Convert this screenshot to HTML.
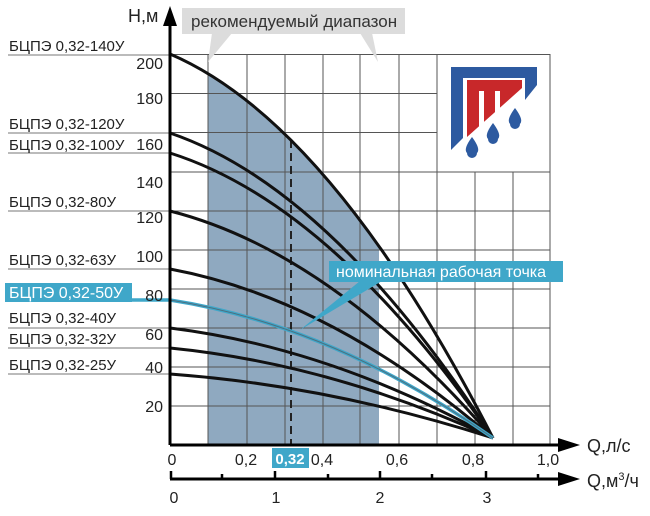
<!DOCTYPE html>
<html><head><meta charset="utf-8"><style>
body{margin:0;background:#fff}
svg text{font-family:"Liberation Sans",sans-serif}
</style></head><body>
<svg width="650" height="511" viewBox="0 0 650 511" xmlns="http://www.w3.org/2000/svg">
<defs><clipPath id="c"><path d="M170,54 Q331.5,123 493,438 L493,445 L170,445Z"/></clipPath></defs>
<!-- shaded range -->
<rect x="208" y="54" width="171" height="391" fill="#8fa9c0" clip-path="url(#c)"/>
<!-- grid -->
<g stroke="#555" stroke-width="1">
<line x1="170" y1="54.5" x2="550" y2="54.5"/>
<line x1="170" y1="93.5" x2="437" y2="93.5"/>
<line x1="170" y1="132.5" x2="437" y2="132.5"/>
<line x1="170" y1="172" x2="550" y2="172"/>
<line x1="170" y1="211" x2="550" y2="211"/>
<line x1="170" y1="250" x2="550" y2="250"/>
<line x1="170" y1="289" x2="550" y2="289"/>
<line x1="170" y1="328" x2="550" y2="328"/>
<line x1="170" y1="367" x2="550" y2="367"/>
<line x1="170" y1="406" x2="550" y2="406"/>
<line x1="208" y1="54" x2="208" y2="445"/>
<line x1="247" y1="54" x2="247" y2="445"/>
<line x1="285" y1="54" x2="285" y2="445"/>
<line x1="323" y1="54" x2="323" y2="445"/>
<line x1="360" y1="54" x2="360" y2="445"/>
<line x1="399" y1="54" x2="399" y2="445"/>
<line x1="437" y1="54" x2="437" y2="445"/>
<line x1="475" y1="172" x2="475" y2="445"/>
<line x1="513" y1="172" x2="513" y2="445"/>
<line x1="550" y1="54" x2="550" y2="445"/>
</g>
<line x1="291" y1="140" x2="291" y2="445" stroke="#222" stroke-width="2" stroke-dasharray="8,5"/>
<!-- label lines -->
<g stroke="#777" stroke-width="1">
<line x1="8" y1="55" x2="170" y2="55"/>
<line x1="8" y1="133" x2="170" y2="133"/>
<line x1="8" y1="153" x2="170" y2="153"/>
<line x1="8" y1="211" x2="170" y2="211"/>
<line x1="8" y1="269" x2="170" y2="269"/>
<line x1="8" y1="328" x2="170" y2="328"/>
<line x1="8" y1="348" x2="170" y2="348"/>
<line x1="8" y1="374" x2="170" y2="374"/>
</g>
<g fill="none" stroke="#111" stroke-width="3">
<path d="M170,54 Q331.5,123 493,438"/>
<path d="M170,133 Q331.5,188 493,438"/>
<path d="M170,153 Q331.5,204 493,438"/>
<path d="M170,211 Q331.5,252 493,438"/>
<path d="M170,269 Q331.5,299 493,438"/>
<path d="M170,328 Q331.5,348 493,438"/>
<path d="M170,348 Q331.5,364 493,438"/>
<path d="M170,374 Q331.5,386 493,438"/>
</g>
<path d="M130,300 L170,300 Q331.5,325 493,438" fill="none" stroke="#3fa7c9" stroke-width="3.5"/>
<path d="M170,300 Q331.5,325 493,438" fill="none" stroke="#4d6f80" stroke-width="1"/>
<!-- axes -->
<line x1="170" y1="20" x2="170" y2="445" stroke="#000" stroke-width="3"/>
<polygon points="163,26 170,6 177,26" fill="#000"/>
<line x1="170" y1="445" x2="565" y2="445" stroke="#000" stroke-width="3"/>
<polygon points="558,438 580,445 558,452" fill="#000"/>
<line x1="170" y1="479" x2="565" y2="479" stroke="#000" stroke-width="3"/>
<polygon points="558,472 580,479 558,486" fill="#000"/>
<g stroke="#000" stroke-width="2.5">
<line x1="171" y1="471" x2="171" y2="479"/><line x1="222" y1="474" x2="222" y2="479"/>
<line x1="275" y1="471" x2="275" y2="479"/><line x1="328" y1="474" x2="328" y2="479"/>
<line x1="380" y1="471" x2="380" y2="479"/><line x1="432" y1="474" x2="432" y2="479"/>
<line x1="486" y1="471" x2="486" y2="479"/><line x1="538" y1="474" x2="538" y2="479"/>
</g>
<g font-size="16" fill="#222" text-anchor="end">
<text x="163" y="69">200</text><text x="163" y="104">180</text><text x="163" y="150">160</text>
<text x="163" y="188">140</text><text x="163" y="223">120</text><text x="163" y="262">100</text>
<text x="163" y="301">80</text><text x="163" y="340">60</text><text x="163" y="373">40</text>
<text x="163" y="412">20</text>
</g>
<g font-size="16" fill="#222" text-anchor="middle">
<text x="172" y="465">0</text><text x="246" y="465">0,2</text><text x="322" y="465">0,4</text>
<text x="397" y="465">0,6</text><text x="473" y="465">0,8</text><text x="548" y="465">1,0</text>
<text x="174" y="503">0</text><text x="276" y="503">1</text><text x="380" y="503">2</text><text x="487" y="503">3</text>
</g>
<rect x="272" y="448" width="37" height="20" fill="#3fa7c9"/>
<text x="290" y="464" font-size="15" font-weight="bold" fill="#fff" text-anchor="middle">0,32</text>
<text x="587" y="452" font-size="18" fill="#222">Q,л/с</text>
<text x="587" y="487" font-size="18" fill="#222">Q,м<tspan dy="-7" font-size="11">3</tspan><tspan dy="7">/ч</tspan></text>
<text x="128" y="22" font-size="18" fill="#222">Н,м</text>
<g font-size="15" fill="#222">
<text x="9" y="51">БЦПЭ 0,32-140У</text>
<text x="9" y="129">БЦПЭ 0,32-120У</text>
<text x="9" y="150">БЦПЭ 0,32-100У</text>
<text x="9" y="207">БЦПЭ 0,32-80У</text>
<text x="9" y="265">БЦПЭ 0,32-63У</text>
<text x="9" y="323">БЦПЭ 0,32-40У</text>
<text x="9" y="344">БЦПЭ 0,32-32У</text>
<text x="9" y="370">БЦПЭ 0,32-25У</text>
</g>
<rect x="5" y="283" width="127" height="19" fill="#3fa7c9"/>
<text x="9" y="298" font-size="16" fill="#fff">БЦПЭ 0,32-50У</text>
<rect x="182" y="8" width="223" height="26" fill="#dcdcdc"/>
<polygon points="212,33 232,33 208,62" fill="#dcdcdc"/>
<polygon points="360,33 372,33 378,62" fill="#dcdcdc"/>
<text x="191" y="27" font-size="17" fill="#333">рекомендуемый диапазон</text>
<rect x="329" y="261" width="234" height="21" fill="#3fa7c9"/>
<polygon points="360,281 382,281 300,330" fill="#3fa7c9"/>
<text x="336" y="277" font-size="16" fill="#fff">номинальная рабочая точка</text>
<!-- logo -->
<rect x="438" y="55" width="111" height="116" fill="#fff"/>
<polygon points="451,67 537,67 537,85 525,100 525,78 463,78 463,138 451,150" fill="#2d5aa0"/>
<polygon points="467,80 522,80 522,88 467,137" fill="#c8282a"/>
<rect x="479" y="91" width="5" height="40" fill="#fff"/>
<rect x="495" y="91" width="5" height="30" fill="#fff"/>
<g fill="#2d5aa0">
<path d="M515,108 Q506,120 510,124 A5,5 0 0 0 520,124 Q524,120 515,108Z"/>
<path d="M493,123 Q484,135 488,139 A5,5 0 0 0 498,139 Q502,135 493,123Z"/>
<path d="M472,137 Q463,149 467,153 A5,5 0 0 0 477,153 Q481,149 472,137Z"/>
</g>
</svg>
</body></html>
